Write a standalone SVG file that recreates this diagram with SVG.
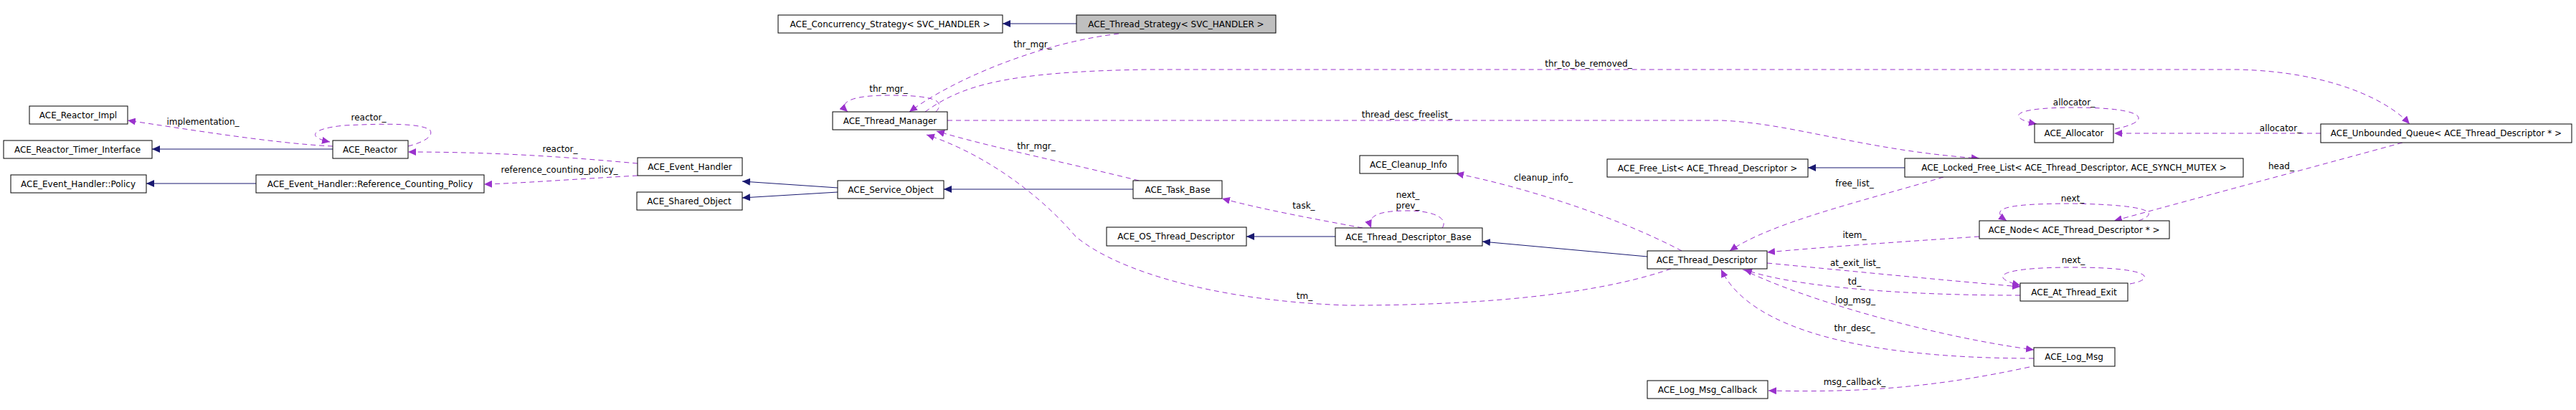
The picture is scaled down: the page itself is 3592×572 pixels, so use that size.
<svg xmlns="http://www.w3.org/2000/svg" width="3592" height="572" viewBox="0 0 3592 572">
<style>
.n rect{fill:#fff;stroke:#000;stroke-width:1}
.n.g rect{fill:#bfbfbf}
text{font-family:"DejaVu Sans","Liberation Sans",sans-serif;font-size:12px;fill:#000}
.n text{text-anchor:middle}
.l{text-anchor:middle}
.inh{fill:none;stroke:#191970;stroke-width:1;marker-end:url(#ab)}
.use{fill:none;stroke:#9a32cd;stroke-width:1;stroke-dasharray:7,5;marker-end:url(#ap)}
</style>
<defs>
<marker id="ab" markerUnits="userSpaceOnUse" markerWidth="12" markerHeight="10" refX="11" refY="5" orient="auto"><path d="M0,0 L11,5 L0,10 Z" fill="#191970"/></marker>
<marker id="ap" markerUnits="userSpaceOnUse" markerWidth="12" markerHeight="10" refX="11" refY="5" orient="auto"><path d="M0,0 L11,5 L0,10 Z" fill="#9a32cd"/></marker>
</defs>
<rect width="3592" height="572" fill="#fff"/>
<g id="connectors">
<path class="inh" d="M1501,33 L1398,33"/>
<path class="inh" d="M464,208 L212,208"/>
<path class="inh" d="M357,256 L204,256"/>
<path class="inh" d="M1168,262 L1035,253"/>
<path class="inh" d="M1168,268 L1035,276"/>
<path class="inh" d="M1580,264 L1316,264"/>
<path class="inh" d="M1862,330 L1738,330"/>
<path class="inh" d="M2297,358 L2067,337"/>
<path class="inh" d="M2656,234 L2521,234"/>
<path class="use" d="M1560,47 C1450,60 1330,110 1268,156"/>
<path class="use" d="M1305,156 C1320,140 1300,133 1240,133 C1180,133 1170,145 1182,156"/>
<path class="use" d="M1290,156 C1340,120 1400,100 1600,97 L3120,97 C3250,100 3330,140 3360,173"/>
<path class="use" d="M1321,168 L2400,168 C2500,172 2600,210 2760,221"/>
<path class="use" d="M1588,252 C1500,230 1380,205 1306,183"/>
<path class="use" d="M2330,375 C2200,420 2000,426 1880,426 C1700,420 1560,380 1500,330 C1440,260 1360,210 1292,188"/>
<path class="use" d="M569,204 C585,200 605,192 600,182 C590,172 540,172 480,175 C430,180 430,192 460,198"/>
<path class="use" d="M464,204 C380,200 260,180 178,168"/>
<path class="use" d="M889,228 C800,220 700,212 569,212"/>
<path class="use" d="M889,245 C800,250 720,256 675,257"/>
<path class="use" d="M1900,318 C1830,305 1760,292 1704,277"/>
<path class="use" d="M2011,318 C2020,305 2000,294 1963,294 C1925,294 1905,300 1912,318"/>
<path class="use" d="M2345,350 C2250,300 2120,260 2030,242"/>
<path class="use" d="M2710,247 C2600,280 2470,310 2412,350"/>
<path class="use" d="M2760,330 C2640,338 2540,345 2464,352"/>
<path class="use" d="M2982,308 C3010,298 3005,286 2890,284 C2790,284 2775,292 2798,308"/>
<path class="use" d="M3350,199 C3200,240 3050,280 2948,308"/>
<path class="use" d="M3236,186 L2948,186"/>
<path class="use" d="M2949,180 C3000,170 3000,150 2892,150 C2800,150 2800,165 2840,173"/>
<path class="use" d="M2464,367 C2600,380 2700,390 2817,400"/>
<path class="use" d="M2817,412 C2650,412 2500,400 2432,376"/>
<path class="use" d="M2970,396 C3005,390 3005,373 2891,373 C2780,373 2775,388 2817,398"/>
<path class="use" d="M2430,376 C2520,420 2700,470 2836,488"/>
<path class="use" d="M2836,500 C2600,500 2440,460 2400,376"/>
<path class="use" d="M2830,512 C2700,540 2600,548 2466,545"/>
</g>
<g id="labels">
<text class="l" x="1440" y="66">thr_mgr_</text>
<text class="l" x="1239" y="128">thr_mgr_</text>
<text class="l" x="2215" y="93">thr_to_be_removed_</text>
<text class="l" x="1962" y="164">thread_desc_freelist_</text>
<text class="l" x="1445" y="208">thr_mgr_</text>
<text class="l" x="1819" y="417">tm_</text>
<text class="l" x="514" y="168">reactor_</text>
<text class="l" x="283" y="174">implementation_</text>
<text class="l" x="781" y="212">reactor_</text>
<text class="l" x="780" y="241">reference_counting_policy_</text>
<text class="l" x="1818" y="291">task_</text>
<text class="l" x="1963" y="276">next_</text>
<text class="l" x="1963" y="291">prev_</text>
<text class="l" x="2152" y="252">cleanup_info_</text>
<text class="l" x="2586" y="260">free_list_</text>
<text class="l" x="2586" y="332">item_</text>
<text class="l" x="2890" y="281">next_</text>
<text class="l" x="3181" y="236">head_</text>
<text class="l" x="3180" y="183">allocator_</text>
<text class="l" x="2892" y="147">allocator_</text>
<text class="l" x="2587" y="371">at_exit_list_</text>
<text class="l" x="2586" y="397">td_</text>
<text class="l" x="2891" y="367">next_</text>
<text class="l" x="2587" y="423">log_msg_</text>
<text class="l" x="2586" y="462">thr_desc_</text>
<text class="l" x="2586" y="537">msg_callback_</text>
</g>
<g id="ACE_Thread_Strategy" class="n g"><rect x="1501" y="21" width="278" height="25"/><text x="1640" y="38">ACE_Thread_Strategy&lt; SVC_HANDLER &gt;</text></g>
<g id="ACE_Concurrency_Strategy" class="n"><rect x="1085" y="21" width="313" height="25"/><text x="1241" y="38">ACE_Concurrency_Strategy&lt; SVC_HANDLER &gt;</text></g>
<g id="ACE_Thread_Manager" class="n"><rect x="1161" y="156" width="160" height="25"/><text x="1241" y="173">ACE_Thread_Manager</text></g>
<g id="ACE_Reactor_Impl" class="n"><rect x="41" y="148" width="137" height="25"/><text x="109" y="165">ACE_Reactor_Impl</text></g>
<g id="ACE_Reactor_Timer_Interface" class="n"><rect x="5" y="196" width="207" height="25"/><text x="108" y="213">ACE_Reactor_Timer_Interface</text></g>
<g id="ACE_Reactor" class="n"><rect x="464" y="196" width="105" height="25"/><text x="516" y="213">ACE_Reactor</text></g>
<g id="ACE_Event_Handler_Policy" class="n"><rect x="15" y="244" width="189" height="25"/><text x="109" y="261">ACE_Event_Handler::Policy</text></g>
<g id="ACE_Reference_Counting_Policy" class="n"><rect x="357" y="244" width="318" height="25"/><text x="516" y="261">ACE_Event_Handler::Reference_Counting_Policy</text></g>
<g id="ACE_Event_Handler" class="n"><rect x="889" y="220" width="146" height="25"/><text x="962" y="237">ACE_Event_Handler</text></g>
<g id="ACE_Shared_Object" class="n"><rect x="888" y="268" width="147" height="25"/><text x="961" y="285">ACE_Shared_Object</text></g>
<g id="ACE_Service_Object" class="n"><rect x="1168" y="252" width="148" height="25"/><text x="1242" y="269">ACE_Service_Object</text></g>
<g id="ACE_Task_Base" class="n"><rect x="1580" y="252" width="124" height="25"/><text x="1642" y="269">ACE_Task_Base</text></g>
<g id="ACE_OS_Thread_Descriptor" class="n"><rect x="1543" y="317" width="195" height="26"/><text x="1640" y="334">ACE_OS_Thread_Descriptor</text></g>
<g id="ACE_Thread_Descriptor_Base" class="n"><rect x="1862" y="318" width="205" height="25"/><text x="1964" y="335">ACE_Thread_Descriptor_Base</text></g>
<g id="ACE_Cleanup_Info" class="n"><rect x="1896" y="217" width="137" height="25"/><text x="1964" y="234">ACE_Cleanup_Info</text></g>
<g id="ACE_Free_List" class="n"><rect x="2241" y="222" width="280" height="25"/><text x="2381" y="239">ACE_Free_List&lt; ACE_Thread_Descriptor &gt;</text></g>
<g id="ACE_Locked_Free_List" class="n"><rect x="2656" y="221" width="472" height="26"/><text x="2892" y="238">ACE_Locked_Free_List&lt; ACE_Thread_Descriptor, ACE_SYNCH_MUTEX &gt;</text></g>
<g id="ACE_Allocator" class="n"><rect x="2837" y="173" width="110" height="26"/><text x="2892" y="190">ACE_Allocator</text></g>
<g id="ACE_Unbounded_Queue" class="n"><rect x="3236" y="173" width="350" height="26"/><text x="3411" y="190">ACE_Unbounded_Queue&lt; ACE_Thread_Descriptor * &gt;</text></g>
<g id="ACE_Thread_Descriptor" class="n"><rect x="2297" y="350" width="167" height="25"/><text x="2380" y="367">ACE_Thread_Descriptor</text></g>
<g id="ACE_Node" class="n"><rect x="2760" y="308" width="265" height="25"/><text x="2892" y="325">ACE_Node&lt; ACE_Thread_Descriptor * &gt;</text></g>
<g id="ACE_At_Thread_Exit" class="n"><rect x="2817" y="395" width="150" height="25"/><text x="2892" y="412">ACE_At_Thread_Exit</text></g>
<g id="ACE_Log_Msg" class="n"><rect x="2836" y="485" width="113" height="26"/><text x="2892" y="502">ACE_Log_Msg</text></g>
<g id="ACE_Log_Msg_Callback" class="n"><rect x="2297" y="531" width="168" height="25"/><text x="2381" y="548">ACE_Log_Msg_Callback</text></g>
</svg>
